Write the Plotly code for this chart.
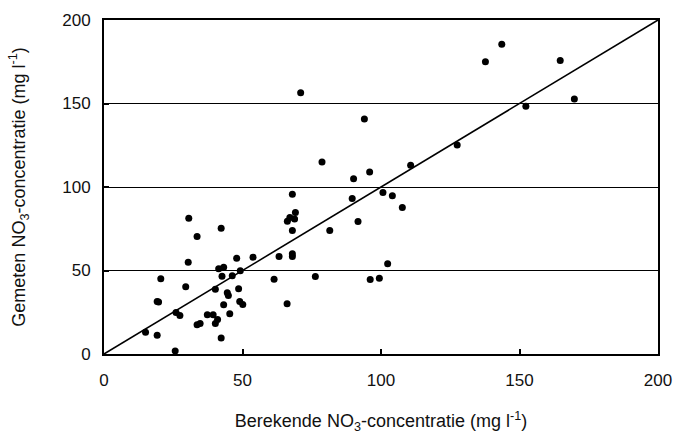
import plotly.graph_objects as go

berekend = [71.0, 94.0, 78.7, 90.1, 95.9, 68.0, 89.6, 91.7, 81.5, 30.6, 33.6, 42.3,
            66.2, 67.1, 69.1, 68.8, 68.0, 68.0, 68.0, 63.2, 53.8, 47.9, 30.4, 41.4,
            43.2, 42.6, 46.3, 49.2, 20.5, 61.4, 76.3, 96.1, 99.4, 29.5, 40.2, 48.6,
            44.5, 44.9, 19.2, 19.7, 49.0, 50.1, 43.2, 66.1, 26.0, 27.4, 37.3, 39.4,
            45.4, 41.0, 40.2, 33.6, 34.7, 15.0, 19.2, 42.3, 25.7, 143.6, 137.7, 164.7,
            169.8, 152.3, 127.5, 110.7, 100.7, 104.1, 107.7, 102.4]
gemeten = [156.5, 140.7, 115.0, 105.0, 109.0, 95.7, 93.1, 79.3, 74.0, 81.3, 70.4, 75.3,
           79.5, 81.7, 84.7, 80.9, 74.0, 60.0, 58.4, 58.4, 58.0, 57.4, 55.0, 51.0,
           52.0, 46.6, 46.8, 49.8, 45.0, 44.8, 46.4, 44.6, 45.4, 40.3, 38.7, 39.1,
           36.7, 35.1, 31.5, 31.1, 31.5, 29.7, 29.5, 30.1, 24.9, 23.1, 23.5, 23.5,
           24.1, 20.7, 18.3, 17.5, 18.3, 13.0, 11.2, 9.6, 1.8, 185.5, 175.0, 175.8,
           152.7, 148.3, 125.1, 113.0, 96.7, 94.7, 87.7, 54.0]
lijn = [0, 200]
ticks = [0, 50, 100, 150, 200]

fnt = "Liberation Sans, Arial, sans-serif"

fig = go.Figure()
fig.add_trace(go.Scatter(x=lijn, y=lijn, mode="lines",
                         line=dict(color="black", width=1.6), hoverinfo="skip"))
fig.add_trace(go.Scatter(x=berekend, y=gemeten, mode="markers",
                         marker=dict(color="black", size=7, line=dict(width=0))))

fig.update_layout(
    width=675, height=434,
    margin=dict(l=104, r=17, t=20, b=80),
    paper_bgcolor="white", plot_bgcolor="white",
    showlegend=False,
    font=dict(family=fnt, size=17, color="#111111"),
)
fig.update_xaxes(range=[0, 200], tickvals=ticks, ticks="inside", ticklen=5,
                 tickwidth=1.5, tickcolor="black", showgrid=False, zeroline=False,
                 showline=True, linecolor="black", linewidth=2, mirror=True,
                 ticklabelstandoff=10, automargin=False,
                 tickfont=dict(size=17),
                 title=dict(text="Berekende NO<sub>3</sub>-concentratie (mg l<sup>-1</sup>)",
                            font=dict(size=18), standoff=30))
fig.update_yaxes(range=[0, 200], tickvals=ticks, ticks="inside", ticklen=5,
                 tickwidth=1.5, tickcolor="black", showgrid=True, gridcolor="black",
                 gridwidth=1, zeroline=False, automargin=False,
                 ticklabelstandoff=8,
                 tickfont=dict(size=17),
                 showline=True, linecolor="black", linewidth=2, mirror=True,
                 title=dict(text="Gemeten NO<sub>3</sub>-concentratie (mg l<sup>-1</sup>)",
                            font=dict(size=18), standoff=32))

fig.write_html("out.html", config={"displayModeBar": False},
               post_script="document.body.style.margin='0';document.body.style.overflow='hidden';")
